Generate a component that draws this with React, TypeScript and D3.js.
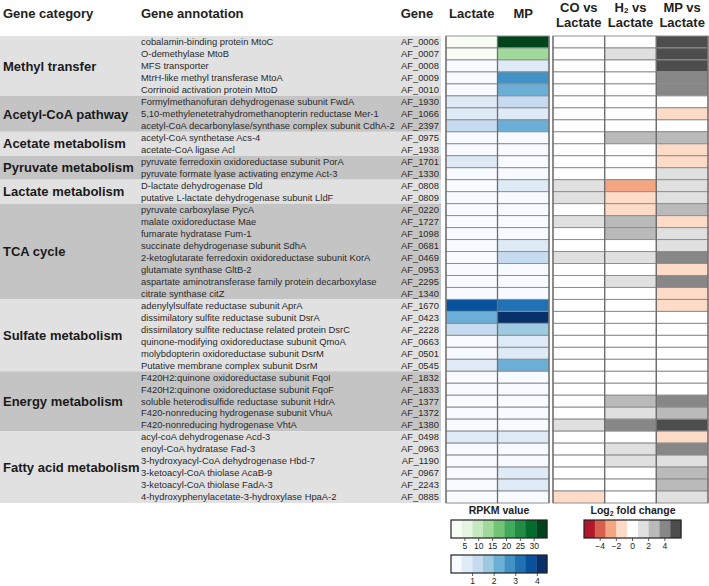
import React from "react";
import * as d3 from "d3";

// gene categories with number of genes in each
const categories = [
  "Methyl transfer",
  "Acetyl-CoA pathway",
  "Acetate metabolism",
  "Pyruvate metabolism",
  "Lactate metabolism",
  "TCA cycle",
  "Sulfate metabolism",
  "Energy metabolism",
  "Fatty acid metabolism",
];
const categoryCounts = [5, 3, 2, 2, 2, 8, 6, 5, 6];

const annotations = [
  "cobalamin-binding protein MtoC",
  "O-demethylase MtoB",
  "MFS transporter",
  "MtrH-like methyl transferase MtoA",
  "Corrinoid activation protein MtoD",
  "Formylmethanofuran dehydrogenase subunit FwdA",
  "5,10-methylenetetrahydromethanopterin reductase Mer-1",
  "acetyl-CoA decarbonylase/synthase complex subunit CdhA-2",
  "acetyl-CoA synthetase Acs-4",
  "acetate-CoA ligase Acl",
  "pyruvate ferredoxin oxidoreductase subunit PorA",
  "pyruvate formate lyase activating enzyme Act-3",
  "D-lactate dehydrogenase Dld",
  "putative L-lactate dehydrogenase subunit LldF",
  "pyruvate carboxylase PycA",
  "malate oxidoreductase Mae",
  "fumarate hydratase Fum-1",
  "succinate dehydrogenase subunit SdhA",
  "2-ketoglutarate ferredoxin oxidoreductase subunit KorA",
  "glutamate synthase GltB-2",
  "aspartate aminotransferase family protein decarboxylase",
  "citrate synthase citZ",
  "adenylylsulfate reductase subunit AprA",
  "dissimilatory sulfite reductase subunit DsrA",
  "dissimilatory sulfite reductase related protein DsrC",
  "quinone-modifying oxidoreductase subunit QmoA",
  "molybdopterin oxidoreductase subunit DsrM",
  "Putative membrane complex subunit DsrM",
  "F420H2:quinone oxidoreductase subunit FqoI",
  "F420H2:quinone oxidoreductase subunit FqoF",
  "soluble heterodisulfide reductase subunit HdrA",
  "F420-nonreducing hydrogenase subunit VhuA",
  "F420-nonreducing hydrogenase VhtA",
  "acyl-coA dehydrogenase Acd-3",
  "enoyl-CoA hydratase Fad-3",
  "3-hydroxyacyl-CoA dehydrogenase Hbd-7",
  "3-ketoacyl-CoA thiolase AcaB-9",
  "3-ketoacyl-CoA thiolase FadA-3",
  "4-hydroxyphenylacetate-3-hydroxylase HpaA-2",
];

const genes = [
  "AF_0006", "AF_0007", "AF_0008", "AF_0009", "AF_0010",
  "AF_1930", "AF_1066", "AF_2397",
  "AF_0975", "AF_1938",
  "AF_1701", "AF_1330",
  "AF_0808", "AF_0809",
  "AF_0220", "AF_1727", "AF_1098", "AF_0681", "AF_0469", "AF_0953", "AF_2295", "AF_1340",
  "AF_1670", "AF_0423", "AF_2228", "AF_0663", "AF_0501", "AF_0545",
  "AF_1832", "AF_1833", "AF_1377", "AF_1372", "AF_1380",
  "AF_0498", "AF_0963", "AF_1190", "AF_0967", "AF_2243", "AF_0885",
];

// genes whose RPKM is drawn on the green (high) scale
const greenGenes = ["AF_0006", "AF_0007"];

// RPKM values
const lactateRpkm = [
  1.5, 1.2, 0.1, 0.1, 0.1,
  0.8, 0.8, 1.3,
  0.1, 0.1,
  0.8, 0.1,
  0.1, 0.1,
  0.1, 0.1, 0.1, 0.1, 0.1, 0.1, 0.1, 0.1,
  3.6, 2.2, 1.3, 0.1, 0.1, 0.8,
  0.1, 0.1, 0.1, 0.1, 0.1,
  0.8, 0.1, 0.1, 0.1, 0.1, 0.1,
];
const mpRpkm = [
  33, 13, 0.8, 2.7, 2.2,
  1.3, 0.8, 2.2,
  0.1, 0.1,
  0.1, 0.1,
  0.8, 0.1,
  0.1, 0.1, 0.1, 0.8, 1.3, 0.1, 0.1, 0.1,
  3.1, 4.2, 1.7, 0.8, 0.8, 2.2,
  0.1, 0.1, 0.1, 0.1, 0.1,
  0.8, 0.1, 0.1, 0.8, 0.8, 0.1,
];

// log2 fold changes
const coVsLactate = [
  0, 0, 0, 0, 0,
  0, 0, 0,
  0, 0,
  0, 0,
  1.3, 1.3,
  0, 1.3, 0, 0, 1.3, 0, 0, 0,
  0, 0, 0, 0, 0, 0,
  0, 0, 0, 0, 1.3,
  0, 0, 0, 0, 0, -1.3,
];
const h2VsLactate = [
  0, 1.3, 0, 0, 0,
  0, 0, 0,
  2.6, 0,
  0, 0,
  -2.6, -1.3,
  -1.3, 2.6, 2.6, 0, 1.3, 0, 1.3, 0,
  0, 0, 0, 0, 0, 0,
  0, 0, 2.6, 1.3, 4,
  0, 1.3, 1.3, 0, 0, 0,
];
const mpVsLactate = [
  5.3, 5.3, 5.3, 4, 4,
  0, -1.3, 0,
  2.6, -1.3,
  -1.3, 1.3,
  1.3, 1.3,
  2.6, -1.3, 1.3, 1.3, 4, -1.3, 4, -1.3,
  -1.3, 0, 0, 0, 0, 0,
  0, 0, 4, 2.6, 5.3,
  -1.3, 4, 1.3, 2.6, 2.6, 1.3,
];

const greenTicks = [5, 10, 15, 20, 25, 30];
const blueTicks = [1, 2, 3, 4];
const foldTicks = [-4, -2, 0, 2, 4];

const FONT = "'Liberation Sans', Arial, sans-serif";

const App = () => {
  const width = 709;
  const height = 586;

  const y = d3.scaleBand().domain(genes).range([36, 503]);
  const rpkmX = d3.scaleBand().domain(["Lactate", "MP"]).range([446, 549]);
  const foldX = d3.scaleBand().domain(["CO", "H2", "MP"]).range([553, 708]);

  const greenColor = d3.scaleQuantize<string>().domain([0, 34.6]).range(d3.schemeGreens[9]);
  const blueColor = d3.scaleQuantize<string>().domain([0, 4.45]).range(d3.schemeBlues[9]);
  const foldColor = d3.scaleQuantize<string>().domain([-6, 6]).range(d3.schemeRdGy[9]);

  const rows = genes.map((g, i) => ({
    gene: g,
    annotation: annotations[i],
    lactate: lactateRpkm[i],
    mp: mpRpkm[i],
    co: coVsLactate[i],
    h2: h2VsLactate[i],
    mpFold: mpVsLactate[i],
    green: greenGenes.includes(g),
  }));

  // category groups
  let start = 0;
  const groups = categories.map((c, i) => {
    const g = { name: c, first: genes[start], last: genes[start + categoryCounts[i] - 1], idx: i };
    start += categoryCounts[i];
    return g;
  });

  // legend scales
  const greenLegX = d3.scaleLinear().domain([0, 34.6]).range([451, 547]);
  const blueLegX = d3.scaleLinear().domain([0, 4.45]).range([451, 547]);
  const foldLegX = d3.scaleLinear().domain([-6, 6]).range([584, 681]);

  const legendBar = (
    scale: d3.ScaleLinear<number, number>,
    colors: readonly string[],
    y0: number,
    ticks: number[],
    fmt: (v: number) => string
  ) => {
    const [d0, d1] = scale.domain();
    const step = (d1 - d0) / colors.length;
    return (
      <g>
        {colors.map((c, i) => (
          <rect
            key={i}
            x={scale(d0 + i * step)}
            y={y0}
            width={scale(d0 + (i + 1) * step) - scale(d0 + i * step) + 0.3}
            height={18}
            fill={c}
          />
        ))}
        <rect
          x={scale(d0)}
          y={y0}
          width={scale(d1) - scale(d0)}
          height={18}
          fill="none"
          stroke="#222"
          strokeWidth={1.2}
        />
        {ticks.map((t) => (
          <g key={t}>
            <line x1={scale(t)} x2={scale(t)} y1={y0 + 18} y2={y0 + 21} stroke="#333" strokeWidth={0.8} />
            <text x={scale(t)} y={y0 + 29} textAnchor="middle" fontSize={8.5} fill="#222">
              {fmt(t)}
            </text>
          </g>
        ))}
      </g>
    );
  };

  return (
    <svg
      width={width}
      height={height}
      style={{ position: "absolute", left: 0, top: 0, background: "#fff" }}
      fontFamily={FONT}
    >
      {/* header */}
      <g fontWeight="bold" fontSize={13} fill="#222">
        <text x={3} y={18}>Gene category</text>
        <text x={141} y={18}>Gene annotation</text>
        <text x={417} y={18} textAnchor="middle">Gene</text>
        <text x={rpkmX("Lactate")! + rpkmX.bandwidth() / 2} y={18} textAnchor="middle">Lactate</text>
        <text x={rpkmX("MP")! + rpkmX.bandwidth() / 2} y={18} textAnchor="middle">MP</text>
        <text x={foldX("CO")! + foldX.bandwidth() / 2} textAnchor="middle">
          <tspan y={12}>CO vs</tspan>
          <tspan x={foldX("CO")! + foldX.bandwidth() / 2} y={27}>Lactate</tspan>
        </text>
        <text x={foldX("H2")! + foldX.bandwidth() / 2} textAnchor="middle">
          <tspan y={12}>H</tspan>
          <tspan fontSize={8} dy={1}>2</tspan>
          <tspan dy={-1}> vs</tspan>
          <tspan x={foldX("H2")! + foldX.bandwidth() / 2} y={27}>Lactate</tspan>
        </text>
        <text x={foldX("MP")! + foldX.bandwidth() / 2} textAnchor="middle">
          <tspan y={12}>MP vs</tspan>
          <tspan x={foldX("MP")! + foldX.bandwidth() / 2} y={27}>Lactate</tspan>
        </text>
      </g>

      {/* category bands */}
      {groups.map((g) => {
        const y0 = y(g.first)!;
        const y1 = y(g.last)! + y.bandwidth();
        return (
          <g key={g.name}>
            <rect x={0} y={y0} width={441} height={y1 - y0} fill={g.idx % 2 === 0 ? "#e1e1e1" : "#c4c4c4"} />
            <text
              x={3}
              y={(y0 + y1) / 2}
              dy="0.36em"
              fontSize={13}
              fontWeight="bold"
              fill="#1a1a1a"
            >
              {g.name}
            </text>
          </g>
        );
      })}

      {/* annotations and gene ids */}
      {rows.map((r) => (
        <g key={r.gene} fontSize={9.4} fill="#2a2a2a">
          <text x={141} y={y(r.gene)! + y.bandwidth() / 2} dy="0.35em">{r.annotation}</text>
          <text x={439} y={y(r.gene)! + y.bandwidth() / 2} dy="0.35em" textAnchor="end">{r.gene}</text>
        </g>
      ))}

      {/* RPKM cells */}
      {rows.map((r) => {
        const c = r.green ? greenColor : blueColor;
        return (
          <g key={r.gene + "-rpkm"} stroke="#8f8f8f" strokeWidth={1}>
            <rect x={rpkmX("Lactate")} y={y(r.gene)} width={rpkmX.bandwidth()} height={y.bandwidth()} fill={c(r.lactate)} />
            <rect x={rpkmX("MP")} y={y(r.gene)} width={rpkmX.bandwidth()} height={y.bandwidth()} fill={c(r.mp)} />
          </g>
        );
      })}

      {/* fold change cells */}
      {rows.map((r) => (
        <g key={r.gene + "-fold"} stroke="#8f8f8f" strokeWidth={1}>
          <rect x={foldX("CO")} y={y(r.gene)} width={foldX.bandwidth()} height={y.bandwidth()} fill={foldColor(r.co)} />
          <rect x={foldX("H2")} y={y(r.gene)} width={foldX.bandwidth()} height={y.bandwidth()} fill={foldColor(r.h2)} />
          <rect x={foldX("MP")} y={y(r.gene)} width={foldX.bandwidth()} height={y.bandwidth()} fill={foldColor(r.mpFold)} />
        </g>
      ))}

      {/* column separators */}
      {[
        ...rpkmX.domain().map((d) => rpkmX(d)!),
        rpkmX.range()[1],
        ...foldX.domain().map((d) => foldX(d)!),
        foldX.range()[1],
      ].map((x, i) => (
        <line key={i} x1={x} x2={x} y1={36} y2={503} stroke="#6e6e6e" strokeWidth={1.3} />
      ))}

      {/* legends */}
      <text x={499} y={514} textAnchor="middle" fontSize={10.5} fontWeight="bold" fill="#222">RPKM value</text>
      {legendBar(greenLegX, d3.schemeGreens[9], 520, greenTicks, (v) => String(v))}
      {legendBar(blueLegX, d3.schemeBlues[9], 555, blueTicks, (v) => String(v))}

      <text x={633} y={514} textAnchor="middle" fontSize={10.5} fontWeight="bold" fill="#222">
        Log<tspan fontSize={7} dy={2}>2</tspan>
        <tspan dy={-2}> fold change</tspan>
      </text>
      {legendBar(foldLegX, d3.schemeRdGy[9], 520, foldTicks, (v) => (v < 0 ? "\u2212" + Math.abs(v) : String(v)))}
    </svg>
  );
};

export default App;
